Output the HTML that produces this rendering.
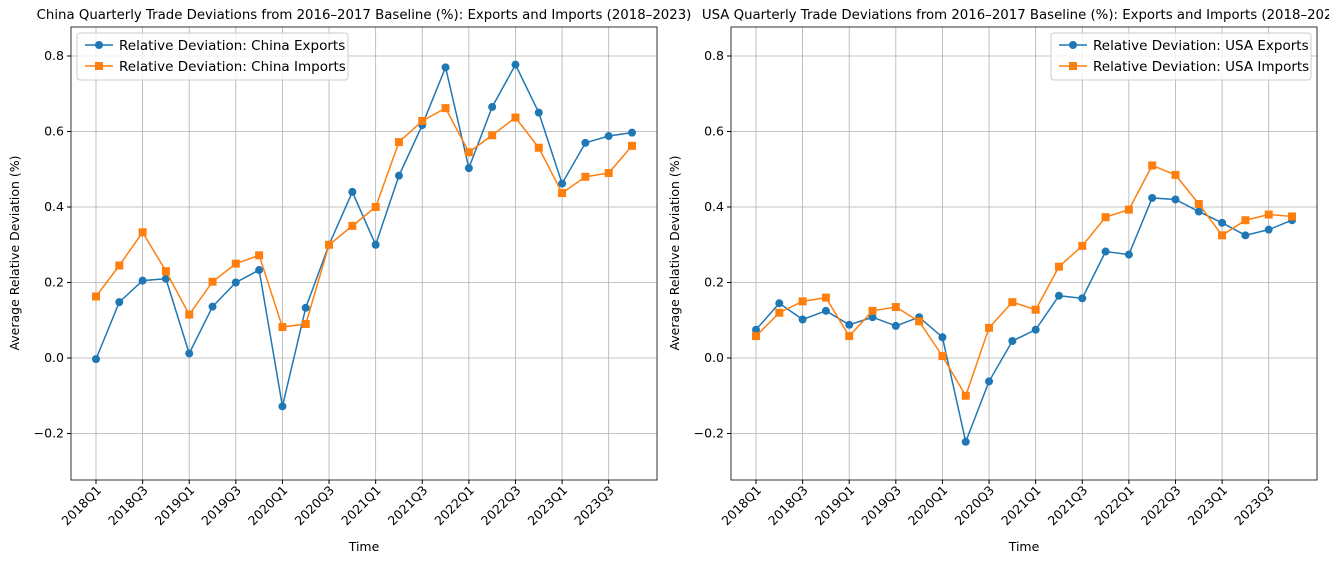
<!DOCTYPE html>
<html><head><meta charset="utf-8"><style>
body{margin:0;background:#fff;overflow:hidden}
svg{font-family:"DejaVu Sans","Liberation Sans",sans-serif}
</style></head><body>
<svg id="c" width="1329" height="564"></svg>
<script>
const quarters=["2018Q1","2018Q2","2018Q3","2018Q4","2019Q1","2019Q2","2019Q3","2019Q4","2020Q1","2020Q2","2020Q3","2020Q4","2021Q1","2021Q2","2021Q3","2021Q4","2022Q1","2022Q2","2022Q3","2022Q4","2023Q1","2023Q2","2023Q3","2023Q4"];
const yTicks=[-0.2,0.0,0.2,0.4,0.6,0.8];
const chinaExports=[-0.003,0.148,0.205,0.21,0.012,0.136,0.2,0.233,-0.128,0.133,0.3,0.44,0.3,0.483,0.617,0.77,0.503,0.665,0.777,0.65,0.462,0.57,0.588,0.597];
const chinaImports=[0.163,0.245,0.333,0.23,0.115,0.202,0.25,0.272,0.082,0.09,0.3,0.35,0.4,0.572,0.628,0.662,0.545,0.59,0.637,0.557,0.437,0.48,0.49,0.562];
const usaExports=[0.075,0.145,0.102,0.125,0.088,0.108,0.085,0.108,0.055,-0.222,-0.062,0.045,0.075,0.165,0.158,0.282,0.274,0.424,0.42,0.388,0.358,0.325,0.34,0.365];
const usaImports=[0.058,0.12,0.15,0.16,0.058,0.125,0.135,0.097,0.005,-0.1,0.08,0.148,0.128,0.242,0.297,0.373,0.393,0.51,0.485,0.408,0.325,0.365,0.38,0.375];
const svg=document.getElementById('c');const NS="http://www.w3.org/2000/svg";
function mk(t,a,p){const e=document.createElementNS(NS,t);for(const k in a)e.setAttribute(k,a[k]);(p||svg).appendChild(e);return e;}
function panel(x0,x1,title,country,exp,imp,legRight){
 const top=27,bot=480;
 const g=mk('g',{});
 
 
 const xs=i=>x0+25+i*(x1-x0-50)/(quarters.length-1);
 const ys=v=>358-v*377.5;
 quarters.forEach((q,i)=>{if(i%2==0){mk('line',{x1:xs(i),x2:xs(i),y1:top,y2:bot,stroke:'#b0b0b0','stroke-width':0.8},g);
  const t=mk('text',{x:0,y:0,'font-size':12.5,'text-anchor':'end',transform:`translate(${xs(i)+6},${bot+11}) rotate(-45)`},g);t.textContent=q;
  
  mk('line',{x1:xs(i),x2:xs(i),y1:bot,y2:bot+4,stroke:'#000'},g);}});
 yTicks.forEach(v=>{mk('line',{x1:x0,x2:x1,y1:ys(v),y2:ys(v),stroke:'#b0b0b0','stroke-width':0.8},g);
  mk('line',{x1:x0-4,x2:x0,y1:ys(v),y2:ys(v),stroke:'#000'},g);
  const t=mk('text',{x:x0-7,y:ys(v)+4,'font-size':12.5,'text-anchor':'end'},g);t.textContent=(v<0?'\u2212':'')+Math.abs(v).toFixed(1);
  });
 mk('rect',{x:x0,y:top,width:x1-x0,height:bot-top,fill:'none',stroke:'#000','stroke-width':0.8},g);
 const tt=mk('text',{x:(x0+x1)/2,y:19,'font-size':13.3,'text-anchor':'middle'},g);tt.textContent=title;
 
 const xl=mk('text',{x:(x0+x1)/2,y:551,'font-size':12.5,'text-anchor':'middle'},g);xl.textContent='Time';
 
 const yl=mk('text',{x:0,y:0,'font-size':12.5,'text-anchor':'middle',transform:`translate(${x0-52},253) rotate(-90)`},g);yl.textContent='Average Relative Deviation (%)';
 
 const ser=[[exp,'#1f77b4','circle','Exports'],[imp,'#ff7f0e','square','Imports']];
 ser.forEach(([d,c,m,n])=>{
  const pl=mk('polyline',{points:d.map((v,i)=>xs(i)+','+ys(v)).join(' '),fill:'none',stroke:c,'stroke-width':1.5},g);
  
  d.forEach((v,i)=>{let e;if(m=='circle')e=mk('circle',{cx:xs(i),cy:ys(v),r:4,fill:c},g);else e=mk('rect',{x:xs(i)-4,y:ys(v)-4,width:8,height:8,fill:c},g);
   });
 });
 const lw=legRight?260:271, lx=legRight?x1-6-lw:x0+6;
 const lg=mk('g',{},g);
 mk('rect',{x:lx,y:33,width:lw,height:47,rx:3,fill:'#fff','fill-opacity':0.8,stroke:'#ccc'},lg);
 ser.forEach(([d,c,m,n],k)=>{const y=45+k*21;
  mk('line',{x1:lx+8,x2:lx+36,y1:y,y2:y,stroke:c,'stroke-width':1.5},lg);
  if(m=='circle')mk('circle',{cx:lx+22,cy:y,r:4,fill:c},lg);else mk('rect',{x:lx+18,y:y-4,width:8,height:8,fill:c},lg);
  const t=mk('text',{x:lx+42,y:y+5,'font-size':13.5},lg);t.textContent='Relative Deviation: '+country+' '+n;
  });
}
panel(71,657,'China Quarterly Trade Deviations from 2016\u20132017 Baseline (%): Exports and Imports (2018\u20132023)','China',chinaExports,chinaImports,false);
panel(731,1317,'USA Quarterly Trade Deviations from 2016\u20132017 Baseline (%): Exports and Imports (2018\u20132023)','USA',usaExports,usaImports,true);
</script></body></html>
